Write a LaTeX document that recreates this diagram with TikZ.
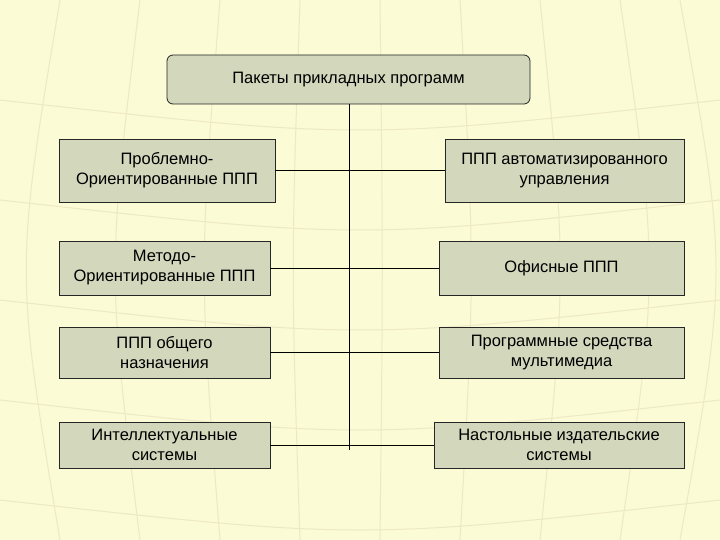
\documentclass[tikz,border=0pt]{standalone}
\usepackage{fontspec}
\setmainfont{Liberation Sans}
\definecolor{bg}{HTML}{FBFBD6}
\definecolor{bx}{HTML}{D3D7BC}
\definecolor{gl}{HTML}{ECE9C4}
\begin{document}
\begin{tikzpicture}[x=1pt,y=-1pt,
 box/.style={draw=black!85,fill=bx,line width=0.8pt,align=center,inner sep=0pt,font=\fontsize{16.5}{20}\selectfont},
 ln/.style={line width=0.8pt}]
\fill[bg] (0,0) rectangle (720,540);
\useasboundingbox (0,0) rectangle (720,540);
\foreach \x in {60,140,220,300,380,460,540,620,680}
  \draw[gl,line width=1pt] (\x,0) .. controls (\x+0.15*\x-54,270) .. (\x,540);
\foreach \y in {100,200,300,400,500}
  \draw[gl,line width=1pt] (0,\y) .. controls (360,\y+40) .. (720,\y);
\node[box,rounded corners=6pt,minimum width=363,minimum height=49] (top) at (348.5,79.5) {Пакеты прикладных программ};
\node[box,minimum width=216,minimum height=63] (l1) at (167,170.5) {Проблемно-\\Ориентированные ППП};
\node[box,minimum width=239,minimum height=63] (r1) at (564.5,170.5) {ППП автоматизированного\\управления};
\node[box,minimum width=211,minimum height=54] (l2) at (164.5,268) {Методо-\\Ориентированные ППП};
\node[box,minimum width=245,minimum height=54] (r2) at (561.5,268) {Офисные ППП};
\node[box,minimum width=211,minimum height=51] (l3) at (164.5,352.5) {ППП общего\\назначения};
\node[box,minimum width=245,minimum height=51] (r3) at (561.5,352.5) {Программные средства\\мультимедиа};
\node[box,minimum width=211,minimum height=46] (l4) at (164.5,445) {Интеллектуальные\\системы};
\node[box,minimum width=250,minimum height=46] (r4) at (559,445) {Настольные издательские\\системы};
\coordinate (bot) at (349,450);
\draw[ln] (top.south -| bot) -- (bot);
\draw[ln] (l1) -- (r1);
\draw[ln] (l2) -- (r2);
\draw[ln] (l3) -- (r3);
\draw[ln] (l4) -- (r4);
\end{tikzpicture}
\end{document}
